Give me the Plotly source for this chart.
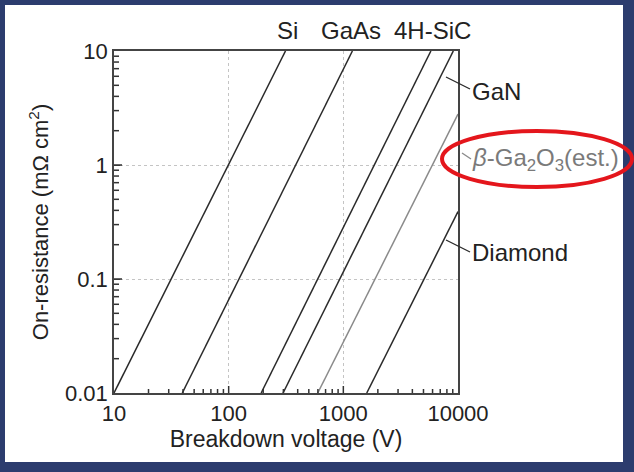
import math
import plotly.graph_objects as go

# ---- data ----
materials = ["Si", "GaAs", "4H-SiC", "GaN", "β-Ga2O3 (est.)", "Diamond"]
v_start = [10, 39.4, 192, 298, 598, 1600]
r_start = [0.01, 0.01, 0.01, 0.01, 0.01, 0.01]
v_end = [313, 1200, 5800, 9100, 10000, 10000]
r_end = [10, 10, 10, 10, 2.8, 0.39]
line_colors = ["#2a2a2a", "#2a2a2a", "#2a2a2a", "#2a2a2a", "#8a8a8a", "#2a2a2a"]

x_ticks = [10, 100, 1000, 10000]
x_ticktext = ["10", "100", "1000", "10000"]
y_ticks = [0.01, 0.1, 1, 10]
y_ticktext = ["0.01", "0.1", "1", "10"]
minor_digits = [2, 3, 4, 5, 6, 7, 8, 9]

X_RANGE = [1, 4]    # log10 of 10 .. 10000
Y_RANGE = [-2, 1]   # log10 of 0.01 .. 10

W, H = 634, 472
L, R, T, B = 114, 176, 51, 79
pw, ph = W - L - R, H - T - B

def px(x):
    return (x - L) / pw

def py(y):
    return (H - B - y) / ph

FONT = "Liberation Sans, Arial, sans-serif"
TXT = "#222222"
BLUE = "rgb(44,60,110)"
AX = "#333333"

fig = go.Figure()
for name, xs, ys, xe, ye, c in zip(materials, v_start, r_start, v_end, r_end, line_colors):
    fig.add_trace(go.Scatter(x=[xs, xe], y=[ys, ye], mode="lines", name=name,
                             line=dict(color=c, width=1.5), showlegend=False,
                             hoverinfo="skip"))

shapes = [
    dict(type="rect", xref="paper", yref="paper", x0=px(5), x1=px(623), y0=py(462), y1=py(5),
         fillcolor="white", line=dict(width=0), layer="below"),
    dict(type="line", xref="paper", yref="paper", x0=px(446), y0=py(77), x1=px(470), y1=py(89),
         line=dict(color="#2a2a2a", width=1.3)),
    dict(type="line", xref="paper", yref="paper", x0=px(462), y0=py(153), x1=px(471), y1=py(159),
         line=dict(color="#8a8a8a", width=1.3)),
    dict(type="line", xref="paper", yref="paper", x0=px(446), y0=py(240), x1=px(470), y1=py(252),
         line=dict(color="#2a2a2a", width=1.3)),
    dict(type="circle", xref="paper", yref="paper", x0=px(442), x1=px(632), y0=py(187), y1=py(131),
         line=dict(color="rgb(228,22,28)", width=4)),
]

# inside tick marks (major + minor) on the bottom and left axes, in paper units
def xfrac(v):
    return (math.log10(v) - X_RANGE[0]) / (X_RANGE[1] - X_RANGE[0])

def yfrac(v):
    return (math.log10(v) - Y_RANGE[0]) / (Y_RANGE[1] - Y_RANGE[0])

x_minor = [d * 10 ** e for e in (1, 2, 3) for d in minor_digits]
y_minor = [d * 10 ** e for e in (-2, -1, 0) for d in minor_digits]

for v, ln in [(v, 4) for v in x_minor] + [(v, 7) for v in x_ticks[1:-1]]:
    f = xfrac(v)
    shapes.append(dict(type="line", xref="paper", yref="paper",
                       x0=f, x1=f, y0=0, y1=ln / ph, line=dict(color=AX, width=1.5)))
for v, ln in [(v, 5) for v in y_minor] + [(v, 8) for v in y_ticks[1:-1]]:
    f = yfrac(v)
    shapes.append(dict(type="line", xref="paper", yref="paper",
                       y0=f, y1=f, x0=0, x1=ln / pw, line=dict(color=AX, width=1.5)))

LBL = dict(color=TXT, size=24, family=FONT)
annotations = [
    dict(text="Si", x=px(287), y=py(30), font=LBL),
    dict(text="GaAs", x=px(351), y=py(30), font=LBL),
    dict(text="4H-SiC", x=px(432), y=py(30), font=LBL),
    dict(text="GaN", x=px(470), y=py(91), xanchor="left", font=LBL),
    dict(text="<i>β</i>-Ga<sub>2</sub>O<sub>3</sub>(est.)", x=px(470), y=py(159), xanchor="left",
         font=dict(color="#7a7a7a", size=24, family=FONT)),
    dict(text="Diamond", x=px(470), y=py(252), xanchor="left", font=LBL),
]
for a in annotations:
    a.setdefault("xanchor", "center")
    a.update(xref="paper", yref="paper", yanchor="middle", showarrow=False)

axis_common = dict(
    type="log", showline=True, linecolor="#444444", linewidth=1.5, mirror=True,
    ticks="inside", ticklen=6, tickcolor="#444444", tickwidth=1.2,
    showgrid=True, gridcolor="#c4c4c4", griddash="dot", gridwidth=1,
    zeroline=False, tickfont=dict(size=22, color=TXT, family=FONT),
)

fig.update_layout(
    width=W, height=H,
    margin=dict(l=L, r=R, t=T, b=B, pad=0),
    paper_bgcolor=BLUE, plot_bgcolor="white",
    font=dict(family=FONT, color=TXT),
    shapes=shapes, annotations=annotations,
    xaxis=dict(axis_common, range=X_RANGE, tickvals=x_ticks, ticktext=x_ticktext,
               title=dict(text="Breakdown voltage (V)", font=dict(size=23, color=TXT, family=FONT),
                          standoff=4)),
    yaxis=dict(axis_common, range=Y_RANGE, tickvals=y_ticks, ticktext=y_ticktext,
               title=dict(text="On-resistance (mΩ cm<sup>2</sup>)",
                          font=dict(size=22, color=TXT, family=FONT), standoff=10)),
)

fig.write_html("out.html")
